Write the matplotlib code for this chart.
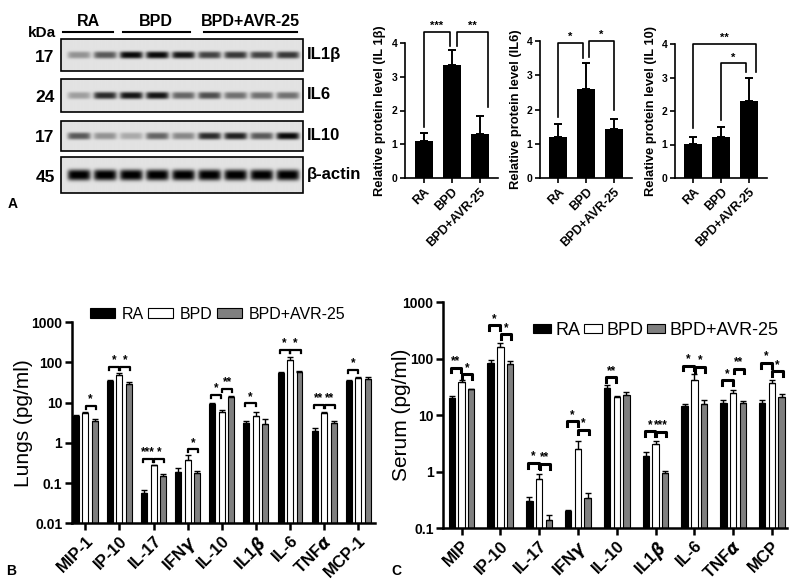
import numpy as np
import matplotlib.pyplot as plt
from matplotlib.patches import Patch, Rectangle
from matplotlib.ticker import NullLocator

plt.rcParams['font.family'] = ['Liberation Sans', 'DejaVu Sans']
plt.rcParams['font.weight'] = 'bold'
plt.rcParams['mathtext.fontset'] = 'dejavusans'

# ---------------- data ----------------
groups = ['RA', 'BPD', 'BPD+AVR-25']
lanes_per_group = [2, 3, 4]

# western blot: band strength for each of the 9 lanes (0 = empty, 1 = saturated)
blot_names = ['IL1β', 'IL6', 'IL10', 'β-actin']
blot_kda = ['17', '24', '17', '45']
band_il1b = [0.35, 0.6, 0.95, 0.95, 0.9, 0.7, 0.75, 0.7, 0.75]
band_il6 = [0.3, 0.8, 0.9, 0.9, 0.55, 0.65, 0.5, 0.5, 0.5]
band_il10 = [0.6, 0.35, 0.25, 0.55, 0.4, 0.8, 0.85, 0.6, 0.95]
band_actin = [1, 1, 1, 1, 1, 1, 1, 1, 1]

# densitometry (mean, SEM)
il1b_mean = [1.1, 3.35, 1.3]
il1b_err = [0.22, 0.43, 0.55]
il6_mean = [1.2, 2.6, 1.42]
il6_err = [0.38, 0.77, 0.3]
il10_mean = [1.02, 1.22, 2.3]
il10_err = [0.2, 0.3, 0.7]

# lungs cytokines (pg/ml)
lung_names = ['MIP-1', 'IP-10', 'IL-17', r'IFN$\gamma$', 'IL-10', r'IL1$\beta$', 'IL-6', r'TNF$\alpha$', 'MCP-1']
lung_ra = [4.7, 34.8, 0.058, 0.187, 9.3, 3.08, 55, 1.95, 34.8]
lung_ra_err = [0.2, 1.5, 0.009, 0.05, 0.8, 0.4, 3, 0.4, 1.5]
lung_bpd = [5.5, 48, 0.28, 0.38, 5.8, 4.7, 116, 5.5, 42]
lung_bpd_err = [0.5, 6, 0.01, 0.11, 0.8, 1.3, 18, 0.4, 2.6]
lung_avr = [3.5, 29, 0.146, 0.178, 13.6, 3.0, 58, 3.2, 39]
lung_avr_err = [0.5, 3, 0.02, 0.017, 0.8, 1.0, 5, 0.25, 5]

# serum cytokines (pg/ml)
serum_names = ['MIP', 'IP-10', 'IL-17', r'IFN$\gamma$', 'IL-10', r'IL1$\beta$', 'IL-6', r'TNF$\alpha$', 'MCP']
serum_ra = [20.4, 85, 0.30, 0.20, 30.8, 1.89, 14.4, 16.7, 16.7]
serum_ra_err = [2, 12, 0.06, 0.01, 3, 0.36, 1.2, 1.7, 2.2]
serum_bpd = [38.6, 163, 0.76, 2.52, 21, 3.16, 42.6, 25, 37.3]
serum_bpd_err = [2.7, 24, 0.16, 1.0, 0.8, 0.3, 11, 3, 4.2]
serum_avr = [28.7, 81.5, 0.138, 0.35, 23, 0.96, 16, 16.7, 21]
serum_avr_err = [0.7, 9, 0.033, 0.08, 2.5, 0.07, 2.4, 1, 3]

# significance: (group, 0 = RA vs BPD / 1 = BPD vs BPD+AVR-25, height, stars)
lung_sig = [(0, 1, 8.5, '*'), (1, 0, 79, '*'), (1, 1, 79, '*'),
            (2, 0, 0.40, '***'), (2, 1, 0.40, '*'), (3, 1, 0.70, '*'),
            (4, 0, 15.6, '*'), (4, 1, 22, '**'), (5, 0, 9.7, '*'),
            (6, 0, 205, '*'), (6, 1, 205, '*'), (7, 0, 8.8, '**'),
            (7, 1, 8.8, '**'), (8, 0, 65, '*')]
serum_sig = [(0, 0, 70, '**'), (0, 1, 53, '*'), (1, 0, 389, '*'), (1, 1, 270, '*'),
             (2, 0, 1.42, '*'), (2, 1, 1.37, '**'), (3, 0, 7.8, '*'), (3, 1, 5.5, '*'),
             (4, 0, 47, '**'), (5, 0, 5.2, '*'), (5, 1, 5.1, '***'),
             (6, 0, 76, '*'), (6, 1, 71, '*'), (7, 0, 41.5, '*'), (7, 1, 66.6, '**'),
             (8, 0, 84, '*'), (8, 1, 59.7, '*')]

# protein panels: (x left, x right, height, left leg end, right leg end, stars)
il1b_sig = [(0, 0.95, 4.32, 1.52, 3.9, '***'), (1.2, 2.3, 4.32, 3.9, 2.1, '**')]
il6_sig = [(0, 0.87, 3.95, 1.79, 3.49, '*'), (1.1, 2.0, 4.0, 3.54, 1.99, '*')]
il10_sig = [(0, 2.25, 3.99, 1.48, 3.17, '**'), (1.0, 1.9, 3.42, 1.73, 3.17, '*')]

fig = plt.figure(figsize=(8, 5.88), dpi=100)

# overlay in pixel coordinates for the blot and panel letters
ov = fig.add_axes([0, 0, 1, 1])
ov.set_xlim(0, 800)
ov.set_ylim(588, 0)
ov.axis('off')

# ---------------- A: western blot ----------------
bx0, bx1 = 61, 303
lane_x = np.linspace(79, 288, 9)
boxes = [(39, 71), (79, 112), (121, 151), (157, 193)]
bands = [band_il1b, band_il6, band_il10, band_actin]
for (top, bot), strength, name, kda in zip(boxes, bands, blot_names, blot_kda):
    xs = np.linspace(bx0, bx1, 730)
    ys = np.linspace(top, bot, (bot - top) * 3)
    X, Y = np.meshgrid(xs, ys)
    cy = (top + bot) / 2
    thick = 5.5 if name == 'β-actin' else 3.6
    dark = np.zeros_like(X)
    for cx, a in zip(lane_x, strength):
        dark += a * np.exp(-((X - cx) / 11.5) ** 6) * np.exp(-np.abs((Y - cy) / thick) ** 3)
    img = 0.89 - 0.9 * np.clip(dark, 0, 1)
    ov.imshow(img, extent=(bx0, bx1, bot, top), cmap='gray', vmin=0, vmax=1,
              aspect='auto', interpolation='bilinear')
    ov.add_patch(Rectangle((bx0, top), bx1 - bx0, bot - top, fill=False, ec='black', lw=1.2))
    ov.text(45, cy + 2, kda, fontsize=12.5, ha='center', va='center')
    ov.text(307, cy - 1, name, fontsize=12, ha='left', va='center')

ov.text(42, 33, 'kDa', fontsize=11, ha='center', va='center')
line_pad = [(16, 8), (8, 6), (6, 9)]
start = 0
for g, n, (pl, pr) in zip(groups, lanes_per_group, line_pad):
    xl = lane_x[start] - pl
    xr = lane_x[start + n - 1] + pr
    ov.plot([xl, xr], [32, 32], color='black', lw=1.5)
    ov.text((xl + xr) / 2, 21, g, fontsize=11.5, ha='center', va='center')
    start += n

ov.text(13, 204, 'A', fontsize=10, ha='center', va='center')
ov.text(11, 571, 'B', fontsize=10, ha='center', va='center')
ov.text(396, 571, 'C', fontsize=10, ha='center', va='center')


def protein_panel(rect, means, errs, label, sig):
    ax = fig.add_axes(rect)
    x = np.arange(3)
    ax.bar(x, means, width=0.64, color='black')
    ax.errorbar(x, means, yerr=[np.zeros(3), errs], fmt='none', ecolor='black',
                elinewidth=1.4, capsize=3.2, capthick=1.4)
    ax.set_xlim(-0.66, 2.65)
    ax.set_ylim(0, 4)
    ax.set_yticks([0, 1, 2, 3, 4])
    ax.set_xticks(x)
    ax.set_xticklabels(groups, rotation=45, ha='right', rotation_mode='anchor', fontsize=9)
    ax.tick_params(axis='y', labelsize=7.5, width=1.2, length=3.5, pad=2)
    ax.tick_params(axis='x', width=1.2, length=3.5, pad=2)
    for s in ['top', 'right']:
        ax.spines[s].set_visible(False)
    for s in ['left', 'bottom']:
        ax.spines[s].set_linewidth(1.2)
    ax.set_ylabel('Relative protein level (%s)' % label, fontsize=9.3, fontweight='bold')
    ax.yaxis.set_label_coords(-0.2, 0.5)
    for xl, xr, h, yl, yr, stars in sig:
        ax.plot([xl, xl, xr, xr], [yl, h, h, yr], color='black', lw=1.2, clip_on=False)
        ax.text((xl + xr) / 2, h + 0.03, stars, ha='center', va='bottom', fontsize=8, clip_on=False)
    return ax


protein_panel([405 / 800, 1 - 178 / 588, 93 / 800, 135 / 588], il1b_mean, il1b_err, 'IL 1β', il1b_sig)
protein_panel([540 / 800, 1 - 178 / 588, 92 / 800, 137 / 588], il6_mean, il6_err, 'IL6', il6_sig)
protein_panel([675 / 800, 1 - 178 / 588, 92 / 800, 134 / 588], il10_mean, il10_err, 'IL 10', il10_sig)


def cytokine_panel(rect, names, series, ylim, sig, width, offset, xlim, ylabel, blw):
    ax = fig.add_axes(rect)
    x = np.arange(len(names))
    colors = ['black', 'white', '#7f7f7f']
    for k, (vals, errs) in enumerate(series):
        xs = x + (k - 1) * offset
        ax.bar(xs, vals, width, color=colors[k], edgecolor='black', lw=0.8, log=True)
        ax.errorbar(xs, vals, yerr=[np.zeros(len(vals)), errs], fmt='none', ecolor='black',
                    elinewidth=1.0, capsize=2, capthick=1.0)
    ax.set_yscale('log')
    ax.set_ylim(*ylim)
    ax.set_xlim(*xlim)
    dec = 10.0 ** np.arange(np.log10(ylim[0]), np.log10(ylim[1]) + 0.5)
    ax.set_yticks(dec)
    ax.set_yticklabels(['%g' % d for d in dec])
    ax.yaxis.set_minor_locator(NullLocator())
    ax.set_xticks(x)
    ax.set_xticklabels(names, rotation=45, ha='right', rotation_mode='anchor', fontsize=12)
    ax.tick_params(axis='y', labelsize=10, width=1.8, length=5, pad=2)
    ax.tick_params(axis='x', width=1.8, length=5, pad=2)
    for s in ['top', 'right']:
        ax.spines[s].set_visible(False)
    for s in ['left', 'bottom']:
        ax.spines[s].set_linewidth(1.8)
    ax.set_ylabel(ylabel, fontsize=15, fontweight='normal')
    for g, pair, h, stars in sig:
        if pair == 0:
            xl, xr = g - offset - 0.03, g - 0.01
        else:
            xl, xr = g + 0.01, g + offset + 0.03
        low = h * 10 ** -0.08
        ax.plot([xl, xl, xr, xr], [low, h, h, low], color='black', lw=blw)
        ax.text((xl + xr) / 2, h * 10 ** 0.01, stars, ha='center', va='bottom', fontsize=8.5)
    handles = [Patch(fc=c, ec='black', lw=0.8) for c in colors]
    return ax, handles


ax_b, hb = cytokine_panel([72 / 800, 1 - 523.3 / 588, 303 / 800, 201 / 588], lung_names,
                          [(lung_ra, lung_ra_err), (lung_bpd, lung_bpd_err), (lung_avr, lung_avr_err)],
                          (0.01, 1000), lung_sig, 0.175, 0.277, (-0.39, 8.49), 'Lungs (pg/ml)', 1.6)
ax_b.yaxis.set_label_coords(-0.13, 0.5)
ax_b.legend(hb, groups, ncol=3, loc='center left', bbox_to_anchor=(0.059, 1.04), frameon=False,
            prop={'weight': 'normal', 'size': 11.5}, handlelength=1.6, handleheight=0.55,
            handletextpad=0.4, columnspacing=0.25, borderaxespad=0, borderpad=0)

ax_c, hc = cytokine_panel([443.3 / 800, 1 - 528.3 / 588, 343.4 / 800, 226 / 588], serum_names,
                          [(serum_ra, serum_ra_err), (serum_bpd, serum_bpd_err), (serum_avr, serum_avr_err)],
                          (0.1, 1000), serum_sig, 0.165, 0.25, (-0.47, 8.38), 'Serum (pg/ml)', 2.2)
ax_c.yaxis.set_label_coords(-0.094, 0.5)
ax_c.legend(hc, groups, ncol=3, loc='center left', bbox_to_anchor=(0.261, 0.875), frameon=False,
            prop={'weight': 'normal', 'size': 13}, handlelength=1.0, handleheight=0.45,
            handletextpad=0.25, columnspacing=0.2, borderaxespad=0, borderpad=0)

fig.savefig('out.png', dpi=100)
